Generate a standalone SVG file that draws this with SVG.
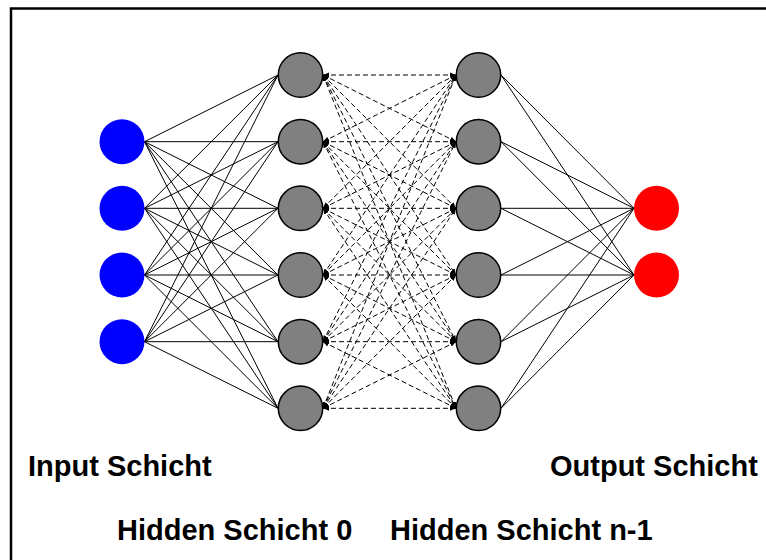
<svg xmlns="http://www.w3.org/2000/svg" width="766" height="560" viewBox="0 0 766 560">
  <style>
    .frame { fill: none; stroke: #000; stroke-width: 2.5; }
    .solid { stroke: #000; stroke-width: 1; fill: none; }
    .dash { stroke: #000; stroke-width: 1; stroke-dasharray: 5 3; fill: none; }
    .in { fill: #0000ff; }
    .hid { fill: #808080; stroke: #000; stroke-width: 1.5; }
    .out { fill: #ff0000; }
    .label { font-family: "Liberation Sans", Arial, sans-serif; font-weight: bold; font-size: 29px; fill: #000; }
  </style>
  <defs>
    <marker id="tip" viewBox="0 0 6 6" refX="6" refY="3" markerWidth="6" markerHeight="6" markerUnits="userSpaceOnUse" orient="auto-start-reverse">
      <path d="M0,0.6 L6,3 L0,5.4 Z" fill="#000"/>
    </marker>
  </defs>

  <rect class="frame" x="11" y="8.5" width="800" height="600"/>

  <g id="connectors">
    <!-- input layer to hidden layer 0 -->
    <g id="input-hidden0">
      <path class="solid" d="
        M144.5,141.7 L278,75 M144.5,141.7 L278,141.7 M144.5,141.7 L278,208.3 M144.5,141.7 L278,275 M144.5,141.7 L278,341.7 M144.5,141.7 L278,408.3
        M144.5,208.3 L278,75 M144.5,208.3 L278,141.7 M144.5,208.3 L278,208.3 M144.5,208.3 L278,275 M144.5,208.3 L278,341.7 M144.5,208.3 L278,408.3
        M144.5,275 L278,75 M144.5,275 L278,141.7 M144.5,275 L278,208.3 M144.5,275 L278,275 M144.5,275 L278,341.7 M144.5,275 L278,408.3
        M144.5,341.7 L278,75 M144.5,341.7 L278,141.7 M144.5,341.7 L278,208.3 M144.5,341.7 L278,275 M144.5,341.7 L278,341.7 M144.5,341.7 L278,408.3"/>
    </g>
    <!-- hidden layer 0 to hidden layer n-1 (dashed, both directions) -->
    <g id="hidden0-hiddenN">
      <line class="dash" x1="323" y1="75" x2="456" y2="75" marker-start="url(#tip)" marker-end="url(#tip)"/>
      <line class="dash" x1="323" y1="75" x2="456" y2="141.7" marker-start="url(#tip)" marker-end="url(#tip)"/>
      <line class="dash" x1="323" y1="75" x2="456" y2="208.3" marker-start="url(#tip)" marker-end="url(#tip)"/>
      <line class="dash" x1="323" y1="75" x2="456" y2="275" marker-start="url(#tip)" marker-end="url(#tip)"/>
      <line class="dash" x1="323" y1="75" x2="456" y2="341.7" marker-start="url(#tip)" marker-end="url(#tip)"/>
      <line class="dash" x1="323" y1="75" x2="456" y2="408.3" marker-start="url(#tip)" marker-end="url(#tip)"/>
      <line class="dash" x1="323" y1="141.7" x2="456" y2="75" marker-start="url(#tip)" marker-end="url(#tip)"/>
      <line class="dash" x1="323" y1="141.7" x2="456" y2="141.7" marker-start="url(#tip)" marker-end="url(#tip)"/>
      <line class="dash" x1="323" y1="141.7" x2="456" y2="208.3" marker-start="url(#tip)" marker-end="url(#tip)"/>
      <line class="dash" x1="323" y1="141.7" x2="456" y2="275" marker-start="url(#tip)" marker-end="url(#tip)"/>
      <line class="dash" x1="323" y1="141.7" x2="456" y2="341.7" marker-start="url(#tip)" marker-end="url(#tip)"/>
      <line class="dash" x1="323" y1="141.7" x2="456" y2="408.3" marker-start="url(#tip)" marker-end="url(#tip)"/>
      <line class="dash" x1="323" y1="208.3" x2="456" y2="75" marker-start="url(#tip)" marker-end="url(#tip)"/>
      <line class="dash" x1="323" y1="208.3" x2="456" y2="141.7" marker-start="url(#tip)" marker-end="url(#tip)"/>
      <line class="dash" x1="323" y1="208.3" x2="456" y2="208.3" marker-start="url(#tip)" marker-end="url(#tip)"/>
      <line class="dash" x1="323" y1="208.3" x2="456" y2="275" marker-start="url(#tip)" marker-end="url(#tip)"/>
      <line class="dash" x1="323" y1="208.3" x2="456" y2="341.7" marker-start="url(#tip)" marker-end="url(#tip)"/>
      <line class="dash" x1="323" y1="208.3" x2="456" y2="408.3" marker-start="url(#tip)" marker-end="url(#tip)"/>
      <line class="dash" x1="323" y1="275" x2="456" y2="75" marker-start="url(#tip)" marker-end="url(#tip)"/>
      <line class="dash" x1="323" y1="275" x2="456" y2="141.7" marker-start="url(#tip)" marker-end="url(#tip)"/>
      <line class="dash" x1="323" y1="275" x2="456" y2="208.3" marker-start="url(#tip)" marker-end="url(#tip)"/>
      <line class="dash" x1="323" y1="275" x2="456" y2="275" marker-start="url(#tip)" marker-end="url(#tip)"/>
      <line class="dash" x1="323" y1="275" x2="456" y2="341.7" marker-start="url(#tip)" marker-end="url(#tip)"/>
      <line class="dash" x1="323" y1="275" x2="456" y2="408.3" marker-start="url(#tip)" marker-end="url(#tip)"/>
      <line class="dash" x1="323" y1="341.7" x2="456" y2="75" marker-start="url(#tip)" marker-end="url(#tip)"/>
      <line class="dash" x1="323" y1="341.7" x2="456" y2="141.7" marker-start="url(#tip)" marker-end="url(#tip)"/>
      <line class="dash" x1="323" y1="341.7" x2="456" y2="208.3" marker-start="url(#tip)" marker-end="url(#tip)"/>
      <line class="dash" x1="323" y1="341.7" x2="456" y2="275" marker-start="url(#tip)" marker-end="url(#tip)"/>
      <line class="dash" x1="323" y1="341.7" x2="456" y2="341.7" marker-start="url(#tip)" marker-end="url(#tip)"/>
      <line class="dash" x1="323" y1="341.7" x2="456" y2="408.3" marker-start="url(#tip)" marker-end="url(#tip)"/>
      <line class="dash" x1="323" y1="408.3" x2="456" y2="75" marker-start="url(#tip)" marker-end="url(#tip)"/>
      <line class="dash" x1="323" y1="408.3" x2="456" y2="141.7" marker-start="url(#tip)" marker-end="url(#tip)"/>
      <line class="dash" x1="323" y1="408.3" x2="456" y2="208.3" marker-start="url(#tip)" marker-end="url(#tip)"/>
      <line class="dash" x1="323" y1="408.3" x2="456" y2="275" marker-start="url(#tip)" marker-end="url(#tip)"/>
      <line class="dash" x1="323" y1="408.3" x2="456" y2="341.7" marker-start="url(#tip)" marker-end="url(#tip)"/>
      <line class="dash" x1="323" y1="408.3" x2="456" y2="408.3" marker-start="url(#tip)" marker-end="url(#tip)"/>
    </g>
    <!-- hidden layer n-1 to output layer -->
    <g id="hiddenN-output">
      <path class="solid" d="
        M501,75 L634,208.3 M501,141.7 L634,208.3 M501,208.3 L634,208.3 M501,275 L634,208.3 M501,341.7 L634,208.3 M501,408.3 L634,208.3
        M501,75 L634,275 M501,141.7 L634,275 M501,208.3 L634,275 M501,275 L634,275 M501,341.7 L634,275 M501,408.3 L634,275"/>
    </g>
  </g>

  <g id="input-layer">
    <circle id="in0" class="in" cx="122" cy="141.7" r="22.5"/>
    <circle id="in1" class="in" cx="122" cy="208.3" r="22.5"/>
    <circle id="in2" class="in" cx="122" cy="275" r="22.5"/>
    <circle id="in3" class="in" cx="122" cy="341.7" r="22.5"/>
  </g>
  <g id="hidden-layer-0">
    <circle id="h0-0" class="hid" cx="300.5" cy="75" r="22.2"/>
    <circle id="h0-1" class="hid" cx="300.5" cy="141.7" r="22.2"/>
    <circle id="h0-2" class="hid" cx="300.5" cy="208.3" r="22.2"/>
    <circle id="h0-3" class="hid" cx="300.5" cy="275" r="22.2"/>
    <circle id="h0-4" class="hid" cx="300.5" cy="341.7" r="22.2"/>
    <circle id="h0-5" class="hid" cx="300.5" cy="408.3" r="22.2"/>
  </g>
  <g id="hidden-layer-n-1">
    <circle id="hn-0" class="hid" cx="478.5" cy="75" r="22.2"/>
    <circle id="hn-1" class="hid" cx="478.5" cy="141.7" r="22.2"/>
    <circle id="hn-2" class="hid" cx="478.5" cy="208.3" r="22.2"/>
    <circle id="hn-3" class="hid" cx="478.5" cy="275" r="22.2"/>
    <circle id="hn-4" class="hid" cx="478.5" cy="341.7" r="22.2"/>
    <circle id="hn-5" class="hid" cx="478.5" cy="408.3" r="22.2"/>
  </g>
  <g id="output-layer">
    <circle id="out0" class="out" cx="656.5" cy="208.3" r="22.5"/>
    <circle id="out1" class="out" cx="656.5" cy="275" r="22.5"/>
  </g>

  <g id="labels">
    <text class="label" x="28" y="476">Input Schicht</text>
    <text class="label" x="550" y="476">Output Schicht</text>
    <text class="label" x="117" y="540">Hidden Schicht 0</text>
    <text class="label" x="390" y="540">Hidden Schicht n-1</text>
  </g>
</svg>
